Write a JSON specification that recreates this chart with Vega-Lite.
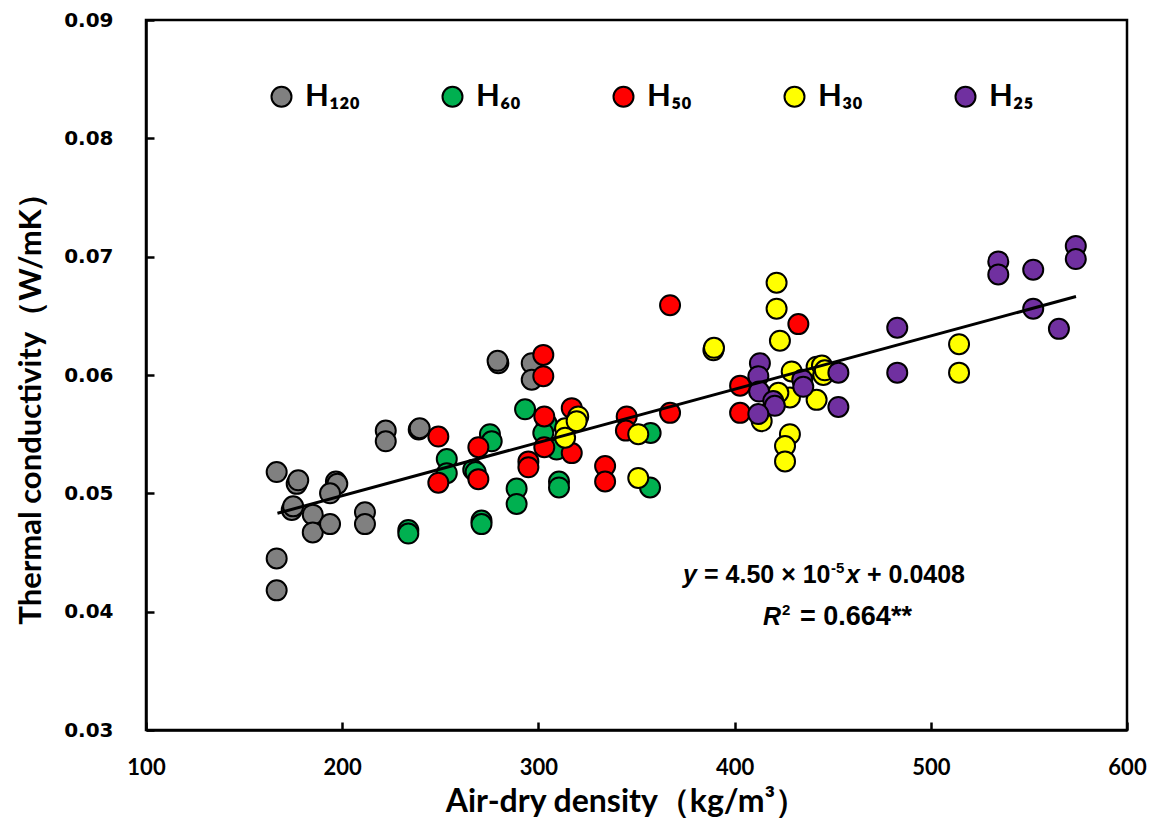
{
  "$schema": "https://vega.github.io/schema/vega-lite/v6.json",
  "autosize": {"type": "none"},
  "padding": {"left": 146, "top": 20, "right": 29, "bottom": 99},
  "width": 981,
  "height": 710,
  "background": "white",
  "config": {
    "view": {"stroke": "black", "strokeWidth": 2.5},
    "axis": {
      "grid": false,
      "domainColor": "black",
      "domainWidth": 2.5,
      "tickColor": "black",
      "tickWidth": 2.5,
      "tickSize": -8,
      "labelFlush": false,
      "labelColor": "black",
      "titleColor": "black",
      "labelFontWeight": "bold",
      "titleFontWeight": "bold"
    },
    "legend": {
      "orient": "none",
      "legendX": 120,
      "legendY": 61,
      "direction": "horizontal",
      "columns": 5,
      "gridAlign": "all",
      "columnPadding": 77,
      "symbolType": "circle",
      "symbolSize": 400,
      "symbolStrokeColor": "black",
      "symbolStrokeWidth": 2,
      "labelFont": "Lato",
      "labelFontSize": 31,
      "labelFontWeight": "bold",
      "labelColor": "black",
      "labelOffset": 8,
      "labelLimit": 0,
      "title": null
    }
  },
  "datasets": {
    "samples": [
      {"group": "H₁₂₀", "density": 166.6, "k": 0.0518},
      {"group": "H₁₂₀", "density": 166.6, "k": 0.0445},
      {"group": "H₁₂₀", "density": 166.6, "k": 0.0418},
      {"group": "H₁₂₀", "density": 176.8, "k": 0.0508},
      {"group": "H₁₂₀", "density": 177.6, "k": 0.0511},
      {"group": "H₁₂₀", "density": 196.8, "k": 0.0510},
      {"group": "H₁₂₀", "density": 197.5, "k": 0.0508},
      {"group": "H₁₂₀", "density": 193.8, "k": 0.0500},
      {"group": "H₁₂₀", "density": 174.3, "k": 0.0486},
      {"group": "H₁₂₀", "density": 175.0, "k": 0.0489},
      {"group": "H₁₂₀", "density": 185.0, "k": 0.0482},
      {"group": "H₁₂₀", "density": 185.0, "k": 0.0467},
      {"group": "H₁₂₀", "density": 193.8, "k": 0.0474},
      {"group": "H₁₂₀", "density": 211.6, "k": 0.0484},
      {"group": "H₁₂₀", "density": 211.6, "k": 0.0474},
      {"group": "H₁₂₀", "density": 222.2, "k": 0.0553},
      {"group": "H₁₂₀", "density": 222.2, "k": 0.0544},
      {"group": "H₁₂₀", "density": 239.0, "k": 0.0554},
      {"group": "H₁₂₀", "density": 239.5, "k": 0.0555},
      {"group": "H₁₂₀", "density": 279.6, "k": 0.0610},
      {"group": "H₁₂₀", "density": 279.2, "k": 0.0612},
      {"group": "H₁₂₀", "density": 296.6, "k": 0.0610},
      {"group": "H₁₂₀", "density": 296.6, "k": 0.0596},
      {"group": "H₆₀", "density": 293.2, "k": 0.0571},
      {"group": "H₆₀", "density": 275.3, "k": 0.0550},
      {"group": "H₆₀", "density": 276.2, "k": 0.0544},
      {"group": "H₆₀", "density": 253.3, "k": 0.0529},
      {"group": "H₆₀", "density": 253.3, "k": 0.0517},
      {"group": "H₆₀", "density": 266.8, "k": 0.0520},
      {"group": "H₆₀", "density": 268.0, "k": 0.0518},
      {"group": "H₆₀", "density": 288.9, "k": 0.0504},
      {"group": "H₆₀", "density": 288.9, "k": 0.0491},
      {"group": "H₆₀", "density": 310.5, "k": 0.0510},
      {"group": "H₆₀", "density": 310.5, "k": 0.0505},
      {"group": "H₆₀", "density": 271.0, "k": 0.0477},
      {"group": "H₆₀", "density": 271.0, "k": 0.0474},
      {"group": "H₆₀", "density": 233.7, "k": 0.0469},
      {"group": "H₆₀", "density": 233.7, "k": 0.0466},
      {"group": "H₆₀", "density": 356.9, "k": 0.0505},
      {"group": "H₆₀", "density": 357.2, "k": 0.0551},
      {"group": "H₆₀", "density": 304.2, "k": 0.0559},
      {"group": "H₆₀", "density": 309.3, "k": 0.0537},
      {"group": "H₆₀", "density": 302.5, "k": 0.0551},
      {"group": "H₅₀", "density": 302.5, "k": 0.0617},
      {"group": "H₅₀", "density": 302.5, "k": 0.0599},
      {"group": "H₅₀", "density": 249.0, "k": 0.0548},
      {"group": "H₅₀", "density": 249.0, "k": 0.0509},
      {"group": "H₅₀", "density": 269.4, "k": 0.0539},
      {"group": "H₅₀", "density": 269.4, "k": 0.0512},
      {"group": "H₅₀", "density": 303.0, "k": 0.0565},
      {"group": "H₅₀", "density": 303.0, "k": 0.0539},
      {"group": "H₅₀", "density": 294.9, "k": 0.0527},
      {"group": "H₅₀", "density": 294.9, "k": 0.0522},
      {"group": "H₅₀", "density": 317.0, "k": 0.0572},
      {"group": "H₅₀", "density": 317.0, "k": 0.0534},
      {"group": "H₅₀", "density": 334.0, "k": 0.0523},
      {"group": "H₅₀", "density": 334.0, "k": 0.0510},
      {"group": "H₅₀", "density": 367.1, "k": 0.0659},
      {"group": "H₅₀", "density": 345.0, "k": 0.0565},
      {"group": "H₅₀", "density": 344.6, "k": 0.0553},
      {"group": "H₅₀", "density": 367.1, "k": 0.0568},
      {"group": "H₅₀", "density": 402.8, "k": 0.0591},
      {"group": "H₅₀", "density": 402.8, "k": 0.0568},
      {"group": "H₅₀", "density": 432.5, "k": 0.0643},
      {"group": "H₃₀", "density": 389.2, "k": 0.0621},
      {"group": "H₃₀", "density": 389.5, "k": 0.0623},
      {"group": "H₃₀", "density": 350.9, "k": 0.0550},
      {"group": "H₃₀", "density": 350.9, "k": 0.0513},
      {"group": "H₃₀", "density": 313.6, "k": 0.0555},
      {"group": "H₃₀", "density": 313.6, "k": 0.0547},
      {"group": "H₃₀", "density": 320.3, "k": 0.0565},
      {"group": "H₃₀", "density": 319.5, "k": 0.0561},
      {"group": "H₃₀", "density": 421.4, "k": 0.0678},
      {"group": "H₃₀", "density": 421.4, "k": 0.0656},
      {"group": "H₃₀", "density": 423.1, "k": 0.0629},
      {"group": "H₃₀", "density": 429.1, "k": 0.0603},
      {"group": "H₃₀", "density": 441.8, "k": 0.0607},
      {"group": "H₃₀", "density": 445.2, "k": 0.0600},
      {"group": "H₃₀", "density": 444.5, "k": 0.0608},
      {"group": "H₃₀", "density": 446.0, "k": 0.0604},
      {"group": "H₃₀", "density": 428.2, "k": 0.0581},
      {"group": "H₃₀", "density": 422.3, "k": 0.0585},
      {"group": "H₃₀", "density": 441.8, "k": 0.0579},
      {"group": "H₃₀", "density": 413.8, "k": 0.0561},
      {"group": "H₃₀", "density": 428.2, "k": 0.0550},
      {"group": "H₃₀", "density": 425.7, "k": 0.0540},
      {"group": "H₃₀", "density": 425.7, "k": 0.0527},
      {"group": "H₃₀", "density": 514.4, "k": 0.0626},
      {"group": "H₃₀", "density": 514.4, "k": 0.0602},
      {"group": "H₂₅", "density": 412.9, "k": 0.0610},
      {"group": "H₂₅", "density": 412.1, "k": 0.0599},
      {"group": "H₂₅", "density": 412.5, "k": 0.0586},
      {"group": "H₂₅", "density": 419.7, "k": 0.0578},
      {"group": "H₂₅", "density": 420.5, "k": 0.0574},
      {"group": "H₂₅", "density": 412.1, "k": 0.0567},
      {"group": "H₂₅", "density": 434.5, "k": 0.0596},
      {"group": "H₂₅", "density": 435.0, "k": 0.0590},
      {"group": "H₂₅", "density": 452.9, "k": 0.0602},
      {"group": "H₂₅", "density": 452.9, "k": 0.0573},
      {"group": "H₂₅", "density": 482.9, "k": 0.0640},
      {"group": "H₂₅", "density": 482.9, "k": 0.0602},
      {"group": "H₂₅", "density": 534.4, "k": 0.0696},
      {"group": "H₂₅", "density": 534.4, "k": 0.0685},
      {"group": "H₂₅", "density": 552.2, "k": 0.0689},
      {"group": "H₂₅", "density": 552.2, "k": 0.0656},
      {"group": "H₂₅", "density": 565.3, "k": 0.0639},
      {"group": "H₂₅", "density": 573.9, "k": 0.0709},
      {"group": "H₂₅", "density": 573.9, "k": 0.0698}
    ],
    "fit": [
      {"density": 167, "k": 0.048315},
      {"density": 574, "k": 0.06663}
    ],
    "eq1": [{"density": 373.7, "k": 0.04246}],
    "eq2": [{"density": 414.5, "k": 0.03891}]
  },
  "encoding": {
    "x": {
      "field": "density",
      "type": "quantitative",
      "scale": {"domain": [100, 600], "nice": false, "zero": false},
      "axis": {
        "values": [100, 200, 300, 400, 500, 600],
        "labelFont": "Lato",
        "labelFontSize": 22,
        "labelPadding": 35,
        "title": "Air-dry density（kg/m³）",
        "titleFont": "Lato",
        "titleFontSize": 32,
        "titlePadding": 8,
        "titleX": 480
      }
    },
    "y": {
      "field": "k",
      "type": "quantitative",
      "scale": {"domain": [0.03, 0.09], "nice": false, "zero": false},
      "axis": {
        "values": [0.03, 0.04, 0.05, 0.06, 0.07, 0.08, 0.09],
        "format": ".2f",
        "labelFont": "DejaVu Sans",
        "labelFontSize": 20,
        "labelPadding": 41,
        "title": "Thermal conductivity（W/mK）",
        "titleFont": "Lato",
        "titleFontSize": 31,
        "titlePadding": 16,
        "titleY": 381
      }
    }
  },
  "layer": [
    {
      "data": {"name": "samples"},
      "mark": {"type": "point", "shape": "circle", "filled": true, "size": 400, "opacity": 1, "stroke": "black", "strokeWidth": 2},
      "encoding": {
        "color": {
          "field": "group",
          "type": "nominal",
          "scale": {
            "domain": ["H₁₂₀", "H₆₀", "H₅₀", "H₃₀", "H₂₅"],
            "range": ["#808080", "#00B050", "#FF0000", "#FFFF00", "#7030A0"]
          }
        }
      }
    },
    {
      "data": {"name": "fit"},
      "mark": {"type": "line", "color": "black", "strokeWidth": 3},
      "encoding": {}
    },
    {
      "data": {"name": "eq1"},
      "mark": {"type": "text", "text": "y", "align": "left", "baseline": "alphabetic", "font": "Liberation Sans", "fontSize": 25, "fontWeight": "bold", "fontStyle": "italic", "color": "black"},
      "encoding": {}
    },
    {
      "data": {"name": "eq1"},
      "mark": {"type": "text", "text": "= 4.50 × 10", "dx": 21, "align": "left", "baseline": "alphabetic", "font": "Liberation Sans", "fontSize": 25, "fontWeight": "bold", "color": "black"},
      "encoding": {}
    },
    {
      "data": {"name": "eq1"},
      "mark": {"type": "text", "text": "-5", "dx": 148, "dy": -10, "align": "left", "baseline": "alphabetic", "font": "Liberation Sans", "fontSize": 15, "fontWeight": "bold", "color": "black"},
      "encoding": {}
    },
    {
      "data": {"name": "eq1"},
      "mark": {"type": "text", "text": "x", "dx": 163, "align": "left", "baseline": "alphabetic", "font": "Liberation Sans", "fontSize": 25, "fontWeight": "bold", "fontStyle": "italic", "color": "black"},
      "encoding": {}
    },
    {
      "data": {"name": "eq1"},
      "mark": {"type": "text", "text": "+ 0.0408", "dx": 184, "align": "left", "baseline": "alphabetic", "font": "Liberation Sans", "fontSize": 25, "fontWeight": "bold", "color": "black"},
      "encoding": {}
    },
    {
      "data": {"name": "eq2"},
      "mark": {"type": "text", "text": "R", "align": "left", "baseline": "alphabetic", "font": "Liberation Sans", "fontSize": 25, "fontWeight": "bold", "fontStyle": "italic", "color": "black"},
      "encoding": {}
    },
    {
      "data": {"name": "eq2"},
      "mark": {"type": "text", "text": "2", "dx": 19, "dy": -10, "align": "left", "baseline": "alphabetic", "font": "Liberation Sans", "fontSize": 15, "fontWeight": "bold", "color": "black"},
      "encoding": {}
    },
    {
      "data": {"name": "eq2"},
      "mark": {"type": "text", "text": "= 0.664**", "dx": 37, "align": "left", "baseline": "alphabetic", "font": "Liberation Sans", "fontSize": 27, "fontWeight": "bold", "color": "black"},
      "encoding": {}
    }
  ]
}
